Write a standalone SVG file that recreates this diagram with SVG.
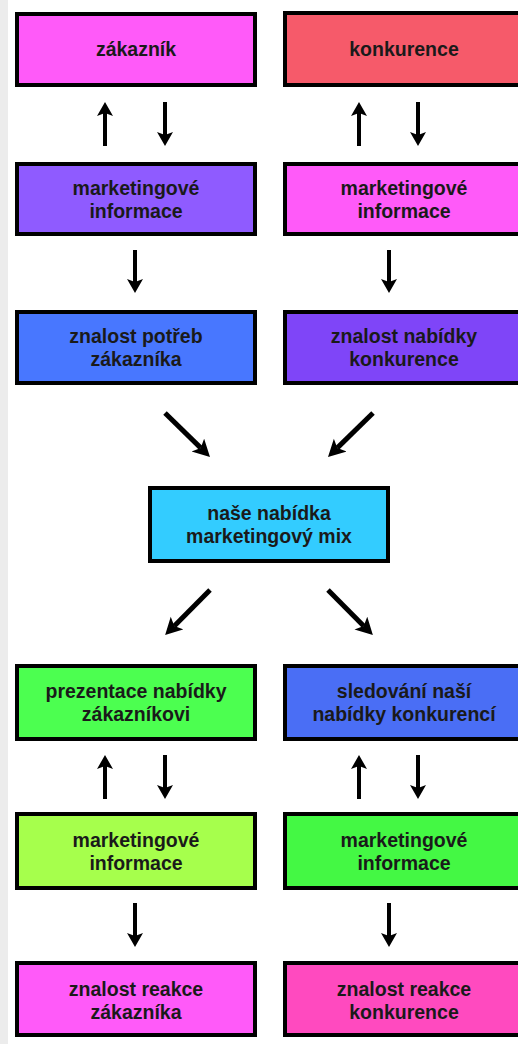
<svg xmlns="http://www.w3.org/2000/svg" width="518" height="1044" viewBox="0 0 518 1044">
<style>
.box{stroke:#000;stroke-width:4}
.t{font-family:"Liberation Sans",Arial,sans-serif;font-weight:bold;font-size:19.5px;fill:#1a1a1a;text-anchor:middle}
.a{stroke:#000;stroke-width:4;fill:none;marker-end:url(#ah)}
.d{stroke:#000;stroke-width:5;fill:none;marker-end:url(#ah2)}
</style>
<defs>
<marker id="ah" markerUnits="userSpaceOnUse" markerWidth="18" markerHeight="18" refX="3" refY="8" orient="auto">
<path d="M0,0 L14,8 L0,16 L3,8 z" fill="#000"/>
</marker>
<marker id="ah2" markerUnits="userSpaceOnUse" markerWidth="20" markerHeight="20" refX="4" refY="9" orient="auto">
<path d="M0,0 L17,9 L0,18 L4,9 z" fill="#000"/>
</marker>
</defs>
<rect x="0" y="0" width="518" height="1044" fill="#fff"/>
<rect x="0" y="0" width="8" height="1044" fill="#ececec"/>

<g id="n-zakaznik"><rect class="box" x="17" y="14" width="238" height="71" fill="#ff5af9"/><text class="t" x="136" y="56">zákazník</text></g>
<g id="n-konkurence"><rect class="box" x="285" y="13" width="238" height="72" fill="#f65a6a"/><text class="t" x="404" y="56">konkurence</text></g>

<g id="n-mi1"><rect class="box" x="17" y="164" width="238" height="70" fill="#8f5bff"/><text class="t" x="136" y="195">marketingové</text><text class="t" x="136" y="218">informace</text></g>
<g id="n-mi2"><rect class="box" x="285" y="164" width="238" height="70" fill="#ff5af9"/><text class="t" x="404" y="195">marketingové</text><text class="t" x="404" y="218">informace</text></g>

<g id="n-potreby"><rect class="box" x="17" y="312" width="238" height="71" fill="#4877ff"/><text class="t" x="136" y="343">znalost potřeb</text><text class="t" x="136" y="366">zákazníka</text></g>
<g id="n-nabidka-k"><rect class="box" x="285" y="312" width="238" height="71" fill="#7f45f8"/><text class="t" x="404" y="343">znalost nabídky</text><text class="t" x="404" y="366">konkurence</text></g>

<g id="n-mix"><rect class="box" x="150" y="488" width="238" height="73" fill="#33ccff"/><text class="t" x="269" y="520">naše nabídka</text><text class="t" x="269" y="543">marketingový mix</text></g>

<g id="n-prezentace"><rect class="box" x="17" y="666" width="238" height="73" fill="#4cff50"/><text class="t" x="136" y="698">prezentace nabídky</text><text class="t" x="136" y="721">zákazníkovi</text></g>
<g id="n-sledovani"><rect class="box" x="285" y="666" width="238" height="73" fill="#4a6ef5"/><text class="t" x="404" y="698">sledování naší</text><text class="t" x="404" y="721">nabídky konkurencí</text></g>

<g id="n-mi3"><rect class="box" x="17" y="814" width="238" height="74" fill="#a6ff4c"/><text class="t" x="136" y="847">marketingové</text><text class="t" x="136" y="870">informace</text></g>
<g id="n-mi4"><rect class="box" x="285" y="814" width="238" height="74" fill="#44f844"/><text class="t" x="404" y="847">marketingové</text><text class="t" x="404" y="870">informace</text></g>

<g id="n-reakce-z"><rect class="box" x="17" y="963" width="238" height="72" fill="#ff5af9"/><text class="t" x="136" y="996">znalost reakce</text><text class="t" x="136" y="1019">zákazníka</text></g>
<g id="n-reakce-k"><rect class="box" x="285" y="963" width="238" height="72" fill="#ff4abf"/><text class="t" x="404" y="996">znalost reakce</text><text class="t" x="404" y="1019">konkurence</text></g>

<g id="connectors">
<line class="a" x1="105" y1="146" x2="105" y2="113"/>
<line class="a" x1="165" y1="102" x2="165" y2="135"/>
<line class="a" x1="359" y1="146" x2="359" y2="113"/>
<line class="a" x1="418" y1="102" x2="418" y2="135"/>
<line class="a" x1="135" y1="250" x2="135" y2="282"/>
<line class="a" x1="389" y1="250" x2="389" y2="282"/>
<line class="d" x1="165" y1="413" x2="200.7" y2="447.9"/>
<line class="d" x1="373" y1="413" x2="337.3" y2="447.9"/>
<line class="d" x1="210" y1="590" x2="174.3" y2="625.9"/>
<line class="d" x1="328" y1="590" x2="363.7" y2="625.9"/>
<line class="a" x1="105" y1="799" x2="105" y2="766"/>
<line class="a" x1="165" y1="755" x2="165" y2="788"/>
<line class="a" x1="359" y1="799" x2="359" y2="766"/>
<line class="a" x1="418" y1="755" x2="418" y2="788"/>
<line class="a" x1="135" y1="903" x2="135" y2="936"/>
<line class="a" x1="389" y1="903" x2="389" y2="936"/>
</g>
</svg>
